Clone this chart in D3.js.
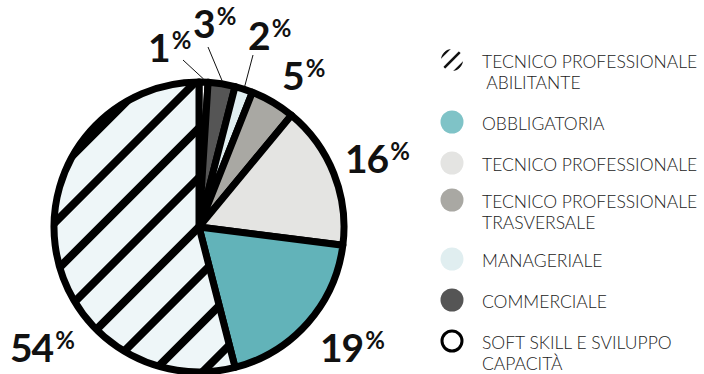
<!DOCTYPE html>
<html>
<head>
<meta charset="utf-8">
<script src="https://cdn.jsdelivr.net/npm/d3@7"></script>
<style>
  body { margin: 0; background: #fff; }
  svg { display: block; }
  .lbl { font-family: Lato, "Open Sans", sans-serif; font-weight: 700; fill: #111; }
  .leg { font-family: Lato, "Open Sans", sans-serif; font-weight: 300; font-size: 17.5px; fill: #222; }
</style>
</head>
<body>
<div id="chart"></div>
<script>
// slices clockwise from 12 o'clock
var categories = ["SOFT SKILL E SVILUPPO CAPACITÀ", "COMMERCIALE", "MANAGERIALE",
  "TECNICO PROFESSIONALE TRASVERSALE", "TECNICO PROFESSIONALE", "OBBLIGATORIA",
  "TECNICO PROFESSIONALE ABILITANTE"];
var values = [1, 3, 2, 5, 16, 19, 54];
var colors = ["#ffffff", "#555555", "#e0eef0", "#a9a8a3", "#e4e4e2", "#62b3b9", "url(#hatch)"];

// legend order and its text lines
var legendLines = [["TECNICO PROFESSIONALE", " ABILITANTE"], ["OBBLIGATORIA"], ["TECNICO PROFESSIONALE"],
  ["TECNICO PROFESSIONALE", "TRASVERSALE"], ["MANAGERIALE"], ["COMMERCIALE"], ["SOFT SKILL E SVILUPPO", "CAPACITÀ"]];
var legendColors = ["hatch", "#7fc3c7", "#e4e4e2", "#a9a8a3", "#e0eef0", "#555555", "#ffffff"];

var width = 704, height = 374;
var cx = 199, cy = 227, radius = 145;

var svg = d3.select("#chart").append("svg")
  .attr("width", width)
  .attr("height", height);

var defs = svg.append("defs");
var pat = defs.append("pattern")
  .attr("id", "hatch")
  .attr("patternUnits", "userSpaceOnUse")
  .attr("width", 35).attr("height", 35)
  .attr("patternTransform", "rotate(45)");
pat.append("rect").attr("width", 35).attr("height", 35).attr("fill", "#eef6f8");
pat.append("rect").attr("x", 0).attr("width", 4).attr("height", 35).attr("fill", "#000");
pat.append("rect").attr("x", 31).attr("width", 4).attr("height", 35).attr("fill", "#000");

var pie = d3.pie().sort(null).value(function (d) { return d; });
var arc = d3.arc().innerRadius(0).outerRadius(radius);
var arcs = pie(values);

var g = svg.append("g").attr("transform", "translate(" + cx + "," + cy + ")");

g.selectAll("path.slice")
  .data(arcs)
  .enter().append("path")
  .attr("class", "slice")
  .attr("d", arc)
  .attr("fill", function (d, i) { return colors[i]; })
  .attr("stroke", "#000")
  .attr("stroke-width", 7)
  .attr("stroke-linejoin", "round");

// percentage labels: offset of text start / baseline from the pie centre
var labelOff = [[-51, -165], [-6, -189], [49, -177], [83, -137], [146, -54], [121, 135], [-189, 135]];
// leader line ends for the three small slices
var leaderEnd = [[-16, -167], [9, -180], [54, -172]];

leaderEnd.forEach(function (e, i) {
  var d = arcs[i];
  var mid = (d.startAngle + d.endAngle) / 2;
  var r0 = radius + 3;
  g.append("line")
    .attr("x1", Math.sin(mid) * r0).attr("y1", -Math.cos(mid) * r0)
    .attr("x2", e[0]).attr("y2", e[1])
    .attr("stroke", "#111").attr("stroke-width", 1);
});

arcs.forEach(function (d, i) {
  var t = g.append("text")
    .attr("class", "lbl")
    .attr("x", labelOff[i][0]).attr("y", labelOff[i][1])
    .attr("font-size", 39);
  t.append("tspan").attr("letter-spacing", -1).text(values[i]);
  t.append("tspan").attr("font-size", 24).attr("dx", 2).attr("dy", -13).text("%");
});

// legend
var legY = [60, 122, 163, 200, 259, 300, 341];
var leg = svg.append("g").attr("transform", "translate(452,0)");
legendLines.forEach(function (lines, k) {
  var row = leg.append("g").attr("transform", "translate(0," + legY[k] + ")");
  if (legendColors[k] === "hatch") {
    defs.append("clipPath").attr("id", "iconclip")
      .append("circle").attr("r", 11);
    var ic = row.append("g").attr("clip-path", "url(#iconclip)");
    d3.range(-2, 3).forEach(function (j) {
      ic.append("line")
        .attr("x1", -14 + j * 7).attr("y1", 14 + j * 7)
        .attr("x2", 14 + j * 7).attr("y2", -14 + j * 7)
        .attr("stroke", "#111").attr("stroke-width", 2.6);
    });
  } else {
    row.append("circle")
      .attr("r", legendColors[k] === "#ffffff" ? 10 : 11.5)
      .attr("fill", legendColors[k])
      .attr("stroke", legendColors[k] === "#ffffff" ? "#000" : "none")
      .attr("stroke-width", 3);
  }
  var tx = row.append("text").attr("class", "leg").attr("x", 30).attr("y", 8);
  lines.forEach(function (s, j) {
    tx.append("tspan").attr("x", 30).attr("dy", j === 0 ? 0 : 21).attr("xml:space", "preserve").text(s);
  });
});
</script>
</body>
</html>
